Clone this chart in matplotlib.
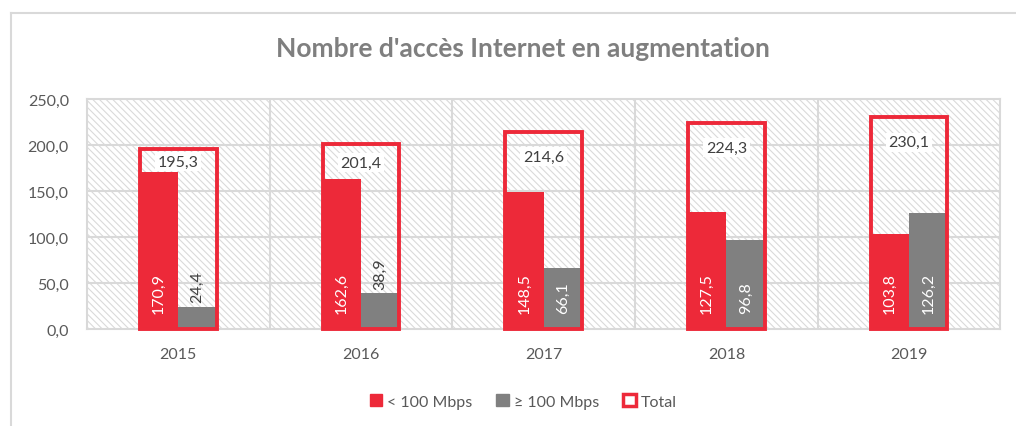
import numpy as np
import matplotlib
matplotlib.use('Agg')
import matplotlib.pyplot as plt
from matplotlib.patches import Patch, Rectangle
from matplotlib.lines import Line2D

plt.rcParams['font.family'] = ['Lato', 'DejaVu Sans']
plt.rcParams['hatch.linewidth'] = 0.8

# données
annees = ['2015', '2016', '2017', '2018', '2019']
moins_100 = [170.9, 162.6, 148.5, 127.5, 103.8]
plus_100 = [24.4, 38.9, 66.1, 96.8, 126.2]
total = [195.3, 201.4, 214.6, 224.3, 230.1]

rouge = '#ED2939'
gris = '#808080'
grille = '#D9D9D9'
texte = '#595959'
fs = 11.5

fig = plt.figure(figsize=(10.16, 4.27), dpi=100)
ax = fig.add_axes([0.0856, 0.227, 0.899, 0.539])

x = np.arange(len(annees))
w = 0.211

# fond hachuré
fond = Rectangle((0, 0), 1, 1, transform=ax.transAxes, facecolor='white',
                 edgecolor='#DADADA', hatch='\\\\\\\\\\', linewidth=0, zorder=0)
ax.add_patch(fond)

ax.bar(x - w / 2, moins_100, w, color=rouge, zorder=2)
ax.bar(x + w / 2, plus_100, w, color=gris, zorder=2)
boites = ax.bar(x, total, 0.42, facecolor='none', edgecolor=rouge,
                linewidth=2.8, zorder=3)
for b in boites:
    b.set_clip_on(False)

# étiquettes
for i in range(len(annees)):
    ax.annotate(f'{moins_100[i]:.1f}'.replace('.', ','), (x[i] - w / 2, 0),
                xytext=(0, 11.5), textcoords='offset points', rotation=90,
                ha='center', va='bottom', color='white', fontsize=fs, zorder=5)
    if plus_100[i] > 50:
        ax.annotate(f'{plus_100[i]:.1f}'.replace('.', ','), (x[i] + w / 2, 0),
                    xytext=(0, 11.5), textcoords='offset points', rotation=90,
                    ha='center', va='bottom', color='white', fontsize=fs, zorder=5)
    else:
        ax.annotate(f'{plus_100[i]:.1f}'.replace('.', ','), (x[i] + w / 2, plus_100[i]),
                    xytext=(0, 3), textcoords='offset points', rotation=90,
                    ha='center', va='bottom', color='#404040', fontsize=fs, zorder=5)
    ecart = min(27.3, (total[i] - moins_100[i]) / 2 + 1)
    ax.text(x[i], total[i] - ecart, f'{total[i]:.1f}'.replace('.', ','),
            ha='center', va='center', color='#404040', fontsize=fs, zorder=5,
            bbox=dict(facecolor='white', edgecolor='none', pad=2))

ax.set_xlim(-0.5, len(annees) - 0.5)
ax.set_ylim(0, 250)
ax.set_yticks(np.arange(0, 251, 50))
ax.set_yticklabels([f'{v:.1f}'.replace('.', ',') for v in np.arange(0, 251, 50)])
ax.set_xticks(x)
ax.set_xticklabels(annees)
ax.tick_params(length=0, labelsize=fs, labelcolor=texte)
ax.tick_params(axis='x', pad=13)
ax.tick_params(axis='y', pad=13)

# grille
for v in np.arange(50, 250, 50):
    ax.axhline(v, color=grille, linewidth=1.5, zorder=1)
for v in np.arange(0.5, len(annees) - 0.5, 1):
    ax.axvline(v, color=grille, linewidth=1.5, zorder=1)
for s in ax.spines.values():
    s.set_color(grille)
    s.set_linewidth(1.5)

fig.text(0.515, 0.885, "Nombre d'accès Internet en augmentation", ha='center',
         va='center', fontsize=19, fontweight='bold', color='#7F7F7F')

handles = [Patch(facecolor=rouge, edgecolor=rouge),
           Patch(facecolor=gris, edgecolor=gris),
           Patch(facecolor='white', edgecolor=rouge, linewidth=2.5)]
fig.legend(handles, ['< 100 Mbps', '≥ 100 Mbps', 'Total'], loc='center',
           bbox_to_anchor=(0.515, 0.058), ncol=3, frameon=False, fontsize=fs,
           handlelength=0.8, handleheight=0.8, handletextpad=0.3,
           columnspacing=1.5, labelcolor=texte)

# cadre du graphique
fig.add_artist(Line2D([10.5 / 1016, 10.5 / 1016], [0, 1 - 14 / 427],
                      transform=fig.transFigure, color=grille, linewidth=1.5))
fig.add_artist(Line2D([10.5 / 1016, 1], [1 - 14 / 427, 1 - 14 / 427],
                      transform=fig.transFigure, color=grille, linewidth=1.5))

fig.savefig('out.png', dpi=100)
